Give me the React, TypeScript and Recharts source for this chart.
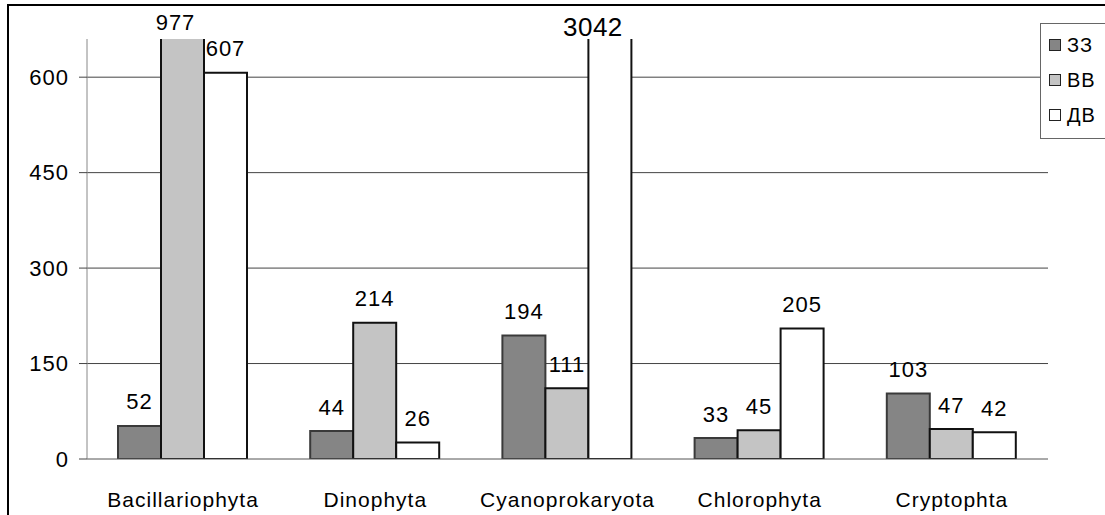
import React from 'react'
import { BarChart, Bar, XAxis, YAxis, CartesianGrid, LabelList } from 'recharts'

const CATEGORIES = ['Bacillariophyta', 'Dinophyta', 'Cyanoprokaryota', 'Chlorophyta', 'Cryptophta']
const ZZ = [52, 44, 194, 33, 103]
const VV = [977, 214, 111, 45, 47]
const DV = [607, 26, 3042, 205, 42]
const Y_TICKS = [0, 150, 300, 450, 600]
const Y_MAX = 660

const SERIES = [
  { key: 'zz', name: 'ЗЗ', fill: '#858585', stroke: '#3a3a3a' },
  { key: 'vv', name: 'ВВ', fill: '#c4c4c4', stroke: '#111' },
  { key: 'dv', name: 'ДВ', fill: '#ffffff', stroke: '#111' }
]

const data = CATEGORIES.map((name, i) => ({ name, zz: ZZ[i], vv: VV[i], dv: DV[i] }))

const FONT = '"Liberation Sans", Arial, sans-serif'
const MARGIN = { top: 39, right: 57, left: 0, bottom: 16 }

// value labels; bars that run off the top get the label just above the plot
const renderLabel = (props: any) => {
  const { x, y, width, value } = props
  const cx = x + width / 2
  if (value > Y_MAX) {
    const big = value > 2000
    return (
      <text
        x={cx - (big ? 17 : 7)}
        y={MARGIN.top - (big ? 12 : 17)}
        textAnchor="middle"
        dominantBaseline="central"
        fontFamily={FONT}
        fontSize={big ? 26 : 22}
        letterSpacing={big ? 0.5 : 1}
        fill="#000"
      >
        {value}
      </text>
    )
  }
  return (
    <text
      x={cx}
      y={y - 24}
      textAnchor="middle"
      dominantBaseline="central"
      fontFamily={FONT}
      fontSize={22}
      letterSpacing={1}
      fill="#000"
    >
      {value}
    </text>
  )
}

const CategoryTick = (props: any) => {
  const { x, y, payload } = props
  return (
    <text
      x={x}
      y={y + 34}
      textAnchor="middle"
      dominantBaseline="central"
      fontFamily={FONT}
      fontSize={21}
      letterSpacing={1}
      fill="#000"
    >
      {payload.value}
    </text>
  )
}

const ValueTick = (props: any) => {
  const { x, y, payload } = props
  return (
    <text
      x={x - 8}
      y={y}
      textAnchor="end"
      dominantBaseline="central"
      fontFamily={FONT}
      fontSize={22}
      letterSpacing={1}
      fill="#000"
    >
      {payload.value}
    </text>
  )
}

const legendBox = {
  position: 'absolute' as const,
  left: 1040,
  top: 23,
  width: 80,
  height: 114,
  border: '1px solid #666',
  background: '#fff',
  fontFamily: FONT,
  fontSize: 20
}

export default function App() {
  return (
    <div style={{ position: 'absolute', left: 0, top: 0, width: 1105, height: 515, background: '#fff', overflow: 'hidden' }}>
      <div
        style={{
          position: 'absolute',
          left: 7,
          top: 4,
          width: 1200,
          height: 600,
          borderTop: '2px solid #000',
          borderLeft: '2px solid #000'
        }}
      />
      <div style={{ position: 'absolute', left: 0, top: 0 }}>
        <BarChart
          width={1105}
          height={515}
          data={data}
          margin={MARGIN}
          barCategoryGap={31}
          barGap={0}
        >
          <CartesianGrid vertical={false} stroke="#444" strokeWidth={1} horizontalValues={[150, 300, 450, 600]} />
          <XAxis
            dataKey="name"
            height={40}
            tickLine={false}
            tickMargin={0}
            axisLine={{ stroke: '#555' }}
            tick={<CategoryTick />}
            interval={0}
          />
          <YAxis
            width={87}
            domain={[0, Y_MAX]}
            allowDataOverflow
            ticks={Y_TICKS}
            tickSize={8}
            tickLine={{ stroke: '#444' }}
            axisLine={{ stroke: '#888' }}
            tick={<ValueTick />}
          />
          {SERIES.map(s => (
            <Bar
              key={s.key}
              dataKey={s.key}
              name={s.name}
              fill={s.fill}
              stroke={s.stroke}
              strokeWidth={2}
              isAnimationActive={false}
            >
              <LabelList dataKey={s.key} content={renderLabel} />
            </Bar>
          ))}
        </BarChart>
      </div>
      <div style={legendBox}>
        {SERIES.map((s, i) => (
          <div
            key={s.key}
            style={{ position: 'absolute', left: 8, top: 8 + i * 35, height: 26, display: 'flex', alignItems: 'center' }}
          >
            <span
              style={{
                display: 'inline-block',
                width: 10,
                height: 10,
                background: s.fill,
                border: '1px solid #222',
                marginRight: 6
              }}
            />
            <span style={{ letterSpacing: 1 }}>{s.name}</span>
          </div>
        ))}
      </div>
    </div>
  )
}
